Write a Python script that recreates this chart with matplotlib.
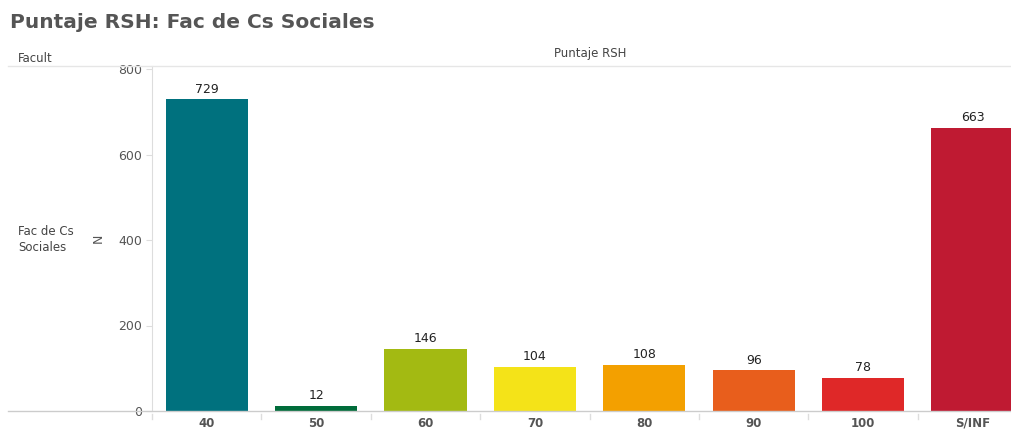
import numpy as np
import matplotlib.pyplot as plt
from matplotlib.lines import Line2D

categories = ["40", "50", "60", "70", "80", "90", "100", "S/INF"]
counts = [729, 12, 146, 104, 108, 96, 78, 663]
colors = ["#00717e", "#006c3a", "#a3ba12", "#f4e318", "#f3a000", "#e85e1c", "#df2828", "#bf1a32"]

W, H = 1012, 430
fig = plt.figure(figsize=(W / 100, H / 100), dpi=100)

# plot area in pixel coords
left, right, top, bottom = 152, 1012, 66, 411
ax = fig.add_axes([left / W, 1 - bottom / H, (right - left) / W, (bottom - top) / H])

x = np.arange(len(categories))
ax.bar(x, counts, width=0.75, color=colors, zorder=2)
for xi, c in zip(x, counts):
    ax.text(xi, c + 8, str(c), ha="center", va="bottom", fontsize=9, color="#222222")

step = 109.4
ax.set_xlim(-0.5, -0.5 + (right - left) / step)
ax.set_ylim(0, 800 * (bottom - top) / (bottom - 69))
ax.set_yticks([0, 200, 400, 600, 800])
ax.set_xticks(x)
ax.set_xticklabels(categories, fontsize=8.5, fontweight="bold", color="#555555")
ax.tick_params(axis="x", length=0, pad=4)
ax.tick_params(axis="y", length=4, color="#dddddd", labelsize=9, labelcolor="#555555", pad=3)
for s in ["top", "right", "bottom"]:
    ax.spines[s].set_visible(False)
ax.spines["left"].set_color("#dddddd")
ax.set_ylabel("N", fontsize=9, color="#555555", labelpad=10)

# minor separators between categories below axis
for b in np.arange(-0.5, len(categories), 1.0):
    ax.plot([b, b], [-6, -18], color="#dddddd", lw=1, clip_on=False)

# header and baseline lines across the figure
fig.add_artist(Line2D([8 / W, 1], [1 - top / H, 1 - top / H], color="#e6e6e6", lw=1))
fig.add_artist(Line2D([8 / W, 1], [1 - bottom / H, 1 - bottom / H], color="#cccccc", lw=1))

fig.text(10 / W, 1 - 22 / H, "Puntaje RSH: Fac de Cs Sociales", fontsize=14.5, fontweight="bold",
         color="#555555", va="center", ha="left")
fig.text(18 / W, 1 - 58 / H, "Facult", fontsize=8.5, color="#444444", va="center", ha="left")
fig.text(590 / W, 1 - 54 / H, "Puntaje RSH", fontsize=8.5, color="#444444", va="center", ha="center")
fig.text(18 / W, 1 - 239 / H, "Fac de Cs\nSociales", fontsize=8.5, color="#444444", va="center",
         ha="left", linespacing=1.3)

fig.savefig("out.png", dpi=100)
